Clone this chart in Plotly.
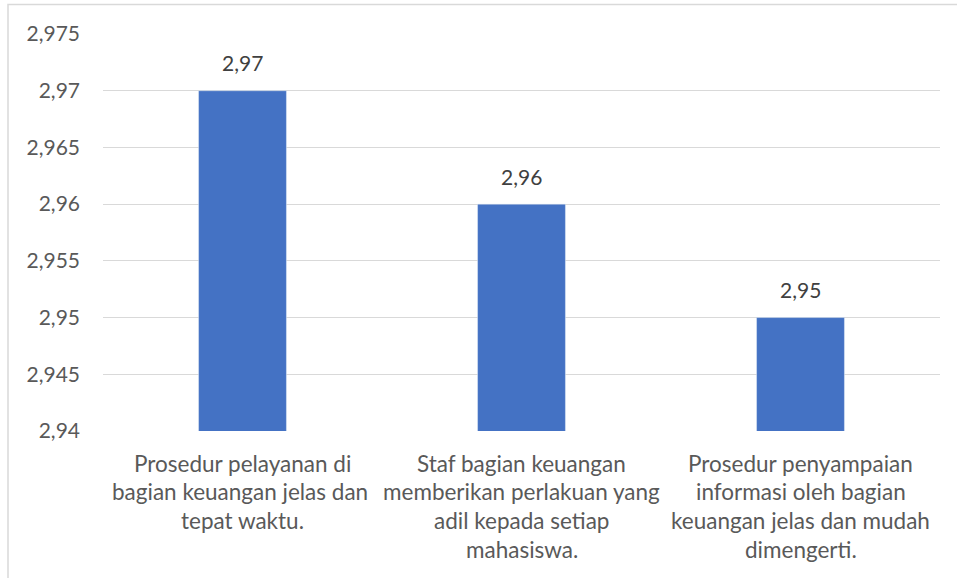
import plotly.graph_objects as go

categories = [
    ["Prosedur pelayanan di", "bagian keuangan jelas dan ", "tepat waktu."],
    ["Staf bagian keuangan", "memberikan perlakuan yang", "adil kepada setiap", "mahasiswa."],
    ["Prosedur penyampaian", "informasi oleh bagian", "keuangan jelas dan mudah", "dimengerti."],
]
values = [2.97, 2.96, 2.95]
value_labels = ["2,97", "2,96", "2,95"]
y_ticks = [2.94, 2.945, 2.95, 2.955, 2.96, 2.965, 2.97, 2.975]
y_tick_labels = ["2,94", "2,945", "2,95", "2,955", "2,96", "2,965", "2,97", "2,975"]

FONT = "Lato"
TXT = "#595959"
xs = [0, 1, 2]

fig = go.Figure(go.Bar(x=xs, y=values, marker_color="#4472C4", width=0.315,
                       hoverinfo="skip"))

ann = []
for i, v in enumerate(values):
    ann.append(dict(x=xs[i], y=v, xref="x", yref="y", text=value_labels[i],
                    showarrow=False, yanchor="middle", yshift=28,
                    font=dict(family=FONT, size=21, color="#404040")))
for i, lines in enumerate(categories):
    for j, line in enumerate(lines):
        ann.append(dict(x=xs[i], y=0, xref="x", yref="paper", text=line,
                        showarrow=False, yanchor="middle", xanchor="center",
                        yshift=-(32 + 28.7 * j),
                        font=dict(family=FONT, size=22.5, color=TXT)))

fig.update_layout(
    width=957, height=578,
    margin=dict(l=103, r=17, t=34, b=147),
    paper_bgcolor="white", plot_bgcolor="white",
    showlegend=False,
    annotations=ann,
    xaxis=dict(range=[-0.5, 2.5], showticklabels=False, showgrid=False,
               zeroline=False, showline=False, fixedrange=True),
    yaxis=dict(range=[2.94, 2.975], tickvals=y_ticks, ticktext=y_tick_labels,
               showgrid=True, gridcolor="#D9D9D9", gridwidth=1, zeroline=False,
               showline=False, ticks="", ticklabelstandoff=22,
               tickfont=dict(family=FONT, size=21, color=TXT)),
    shapes=[dict(type="rect", xref="paper", yref="paper",
                 x0=-0.1135, x1=1.2, y0=-0.6, y1=1.0743,
                 line=dict(color="#D9D9D9", width=1.5), layer="below")],
)

fig.write_html("out.html", config={"displayModeBar": False},
               post_script="document.body.style.margin='0';document.body.style.overflow='hidden';")
